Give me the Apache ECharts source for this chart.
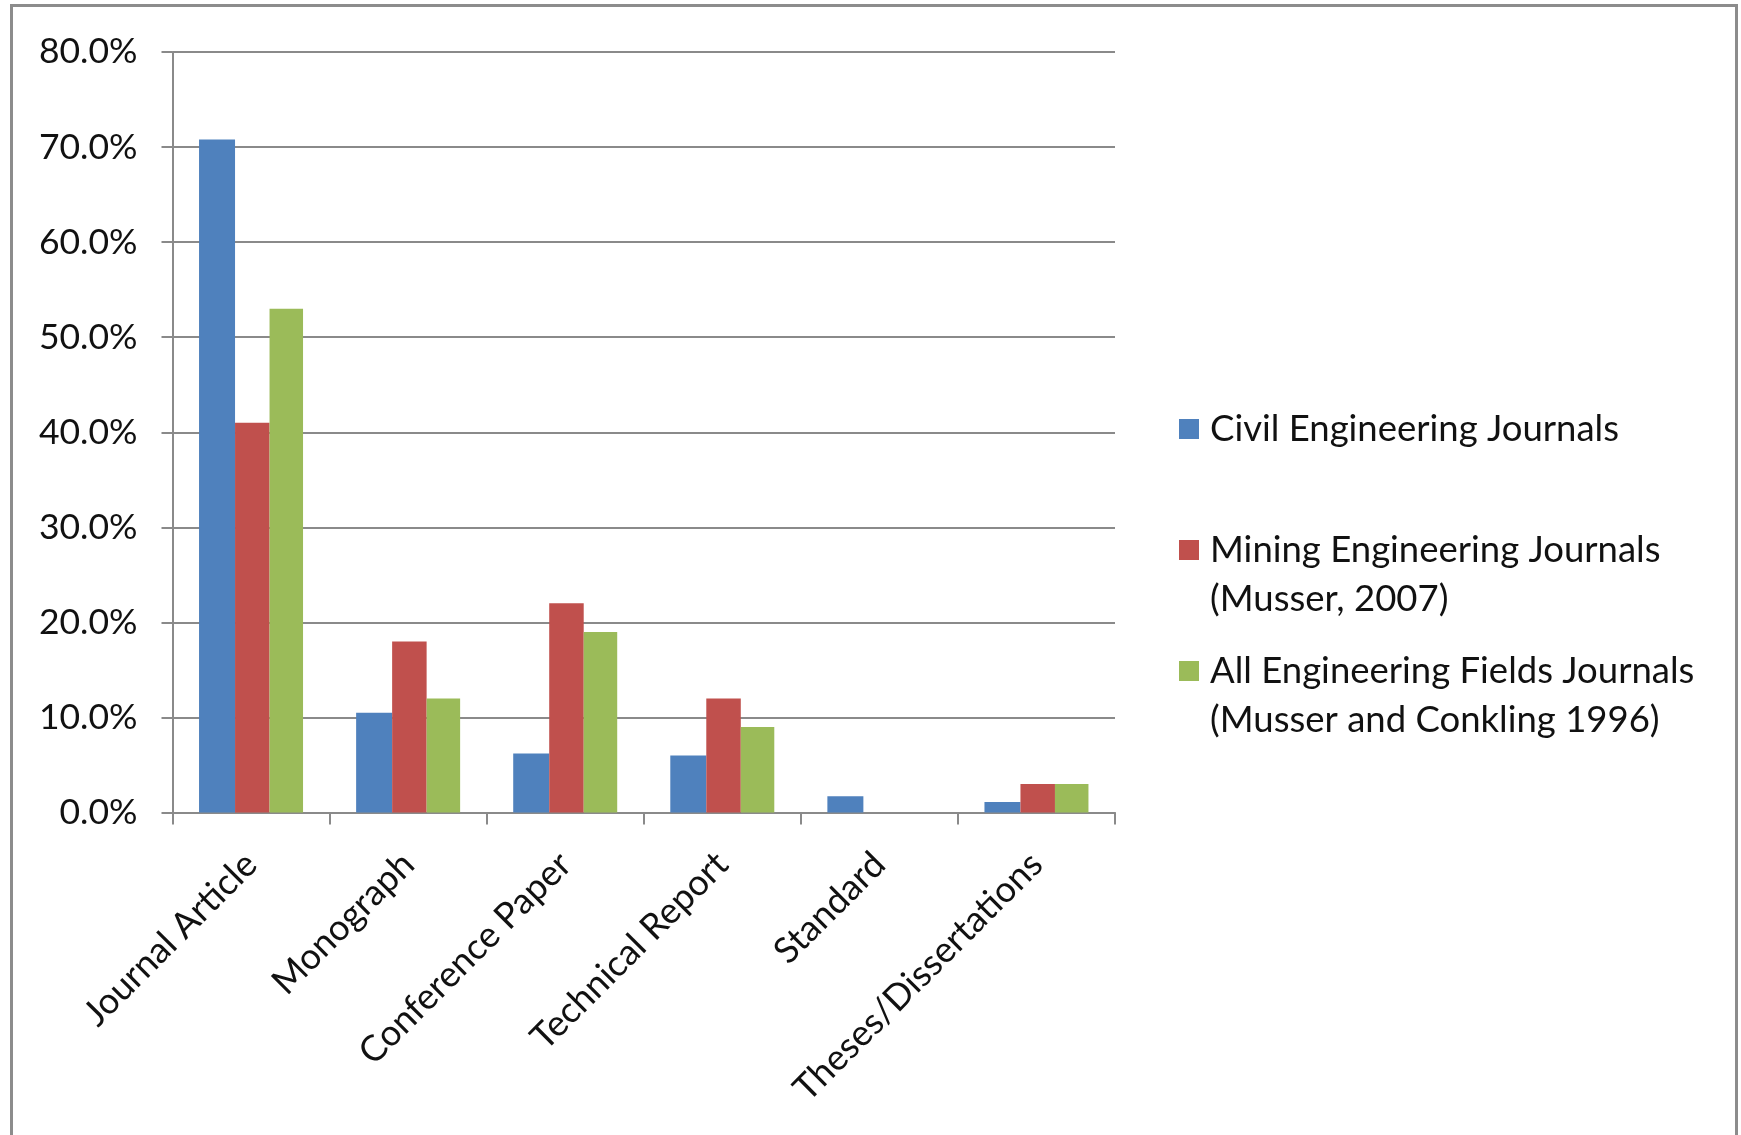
<!DOCTYPE html>
<html>
<head>
<meta charset="utf-8">
<script src="https://cdn.jsdelivr.net/npm/echarts@6/dist/echarts.min.js"></script>
<style>
  html, body { margin: 0; padding: 0; background: #ffffff; }
  #chart { width: 1741px; height: 1135px; }
</style>
</head>
<body>
<div id="chart"></div>
<script>
// Reference types cited by engineering journals (share of all citations, %)
const categories = ['Journal Article', 'Monograph', 'Conference Paper', 'Technical Report', 'Standard', 'Theses/Dissertations'];

const seriesNames = [
  'Civil Engineering Journals',
  'Mining Engineering Journals (Musser, 2007)',
  'All Engineering Fields Journals (Musser and Conkling 1996)'
];
// Legend text, split the way it wraps in the legend
const legendLines = [
  ['Civil Engineering Journals'],
  ['Mining Engineering Journals', '(Musser, 2007)'],
  ['All Engineering Fields Journals', '(Musser and Conkling 1996)']
];

const civilValues     = [70.8, 10.5, 6.2, 6.0, 1.7, 1.1];
const miningValues    = [41.0, 18.0, 22.0, 12.0, 0, 3.0];
const allFieldsValues = [53.0, 12.0, 19.0, 9.0, 0, 3.0];

const yMin = 0, yMax = 80, yStep = 10;

const seriesColors = ['#4F81BD', '#C0504D', '#9BBB59'];
const barWidths = [36, 34.5, 33.5];
const FONT = 'Lato';
const TEXT = '#111111';
const RULE = '#8a8a8a';

const chart = echarts.init(document.getElementById('chart'), null, { renderer: 'canvas' });

// Legend marker centres (y) for the three entries
const legendCentres = [429, 550, 671];
const LINE_H = 49;

function legendText(name) {
  const lines = legendLines[seriesNames.indexOf(name)];
  // a leading blank line keeps the marker level with the first text line
  return lines.length > 1 ? '\n' + lines.join('\n') : lines[0];
}

const legends = seriesNames.map((name, i) => {
  const n = legendLines[i].length;
  const blockH = (n > 1 ? n + 1 : 1) * LINE_H;
  return {
    data: [name],
    orient: 'vertical',
    left: 1179,
    top: legendCentres[i] - blockH / 2,
    padding: 0,
    itemWidth: 32,
    itemHeight: 20,
    icon: 'path://M0,0h20v20h-20z',
    formatter: legendText,
    textStyle: { fontFamily: FONT, fontSize: 36.5, lineHeight: LINE_H, color: TEXT }
  };
});

const seriesData = [civilValues, miningValues, allFieldsValues];

chart.setOption({
  animation: false,
  backgroundColor: '#ffffff',
  graphic: [{
    type: 'rect',
    silent: true,
    z: -10,
    shape: { x: 11.5, y: 5.5, width: 1725, height: 1200 },
    style: { fill: 'none', stroke: '#8c8c8c', lineWidth: 3 }
  }],
  legend: legends,
  grid: {
    left: 172.5,
    right: 626,
    top: 52,
    bottom: 322.5,
    containLabel: false,
    outerBoundsMode: 'none'
  },
  xAxis: {
    type: 'category',
    data: categories,
    axisLine: { show: true, lineStyle: { color: RULE, width: 2 } },
    axisTick: { show: true, length: 12, interval: 0, lineStyle: { color: RULE, width: 2 } },
    axisLabel: {
      interval: 0,
      rotate: 45,
      margin: 46,
      fontFamily: FONT,
      fontSize: 36,
      color: TEXT
    },
    splitLine: { show: false }
  },
  yAxis: {
    type: 'value',
    min: yMin,
    max: yMax,
    interval: yStep,
    axisLine: { show: true, lineStyle: { color: RULE, width: 2 } },
    axisTick: { show: true, length: 11, lineStyle: { color: RULE, width: 2 } },
    axisLabel: {
      margin: 35,
      fontFamily: FONT,
      fontSize: 35.5,
      color: TEXT,
      formatter: v => v.toFixed(1) + '%'
    },
    splitLine: { show: true, lineStyle: { color: RULE, width: 2 } }
  },
  series: seriesNames.map((name, i) => ({
    name: name,
    type: 'bar',
    data: seriesData[i],
    barGap: '0%',
    barWidth: barWidths[i],
    itemStyle: { color: seriesColors[i] }
  }))
});
</script>
</body>
</html>
